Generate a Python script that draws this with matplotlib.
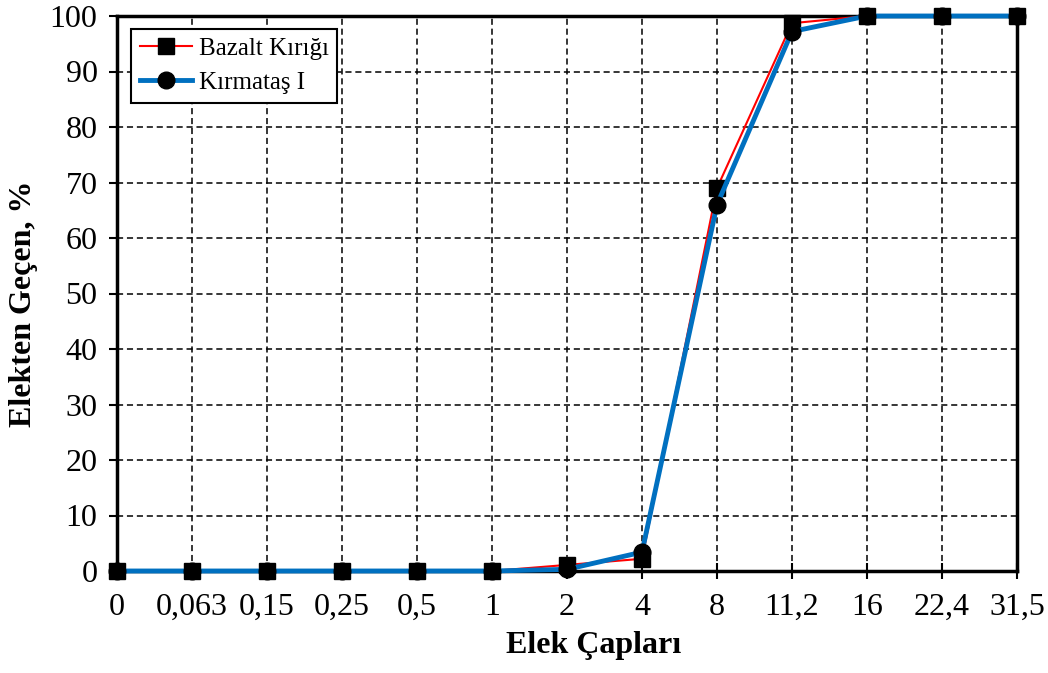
import numpy as np
import matplotlib.pyplot as plt

plt.rcParams['font.family'] = ['Liberation Serif', 'DejaVu Serif']

# Elek çapları (kategori etiketleri)
elek = ["0", "0,063", "0,15", "0,25", "0,5", "1", "2", "4", "8", "11,2", "16", "22,4", "31,5"]

# Elekten geçen, %
bazalt = [0, 0, 0, 0, 0, 0, 1.1, 2.2, 69, 98.7, 100, 100, 100]
kirmatas = [0, 0, 0, 0, 0, 0, 0.3, 3.4, 66, 97.2, 100, 100, 100]

x = np.arange(len(elek))

fig = plt.figure(figsize=(10.48, 6.73), dpi=100)
ax = fig.add_axes([117 / 1048, 1 - 571 / 673, 900 / 1048, 555 / 673])

ax.plot(x, bazalt, color="red", lw=1.5, marker="s", ms=12,
        mfc="black", mec="black", label="Bazalt Kırığı", zorder=3, clip_on=False)
ax.plot(x, kirmatas, color="#0070C0", lw=3.5, marker="o", ms=12,
        mfc="black", mec="black", label="Kırmataş I", zorder=4, clip_on=False)

ax.set_xlim(0, 12)
ax.set_ylim(0, 100)
ax.set_xticks(x)
ax.set_xticklabels(elek)
ax.set_yticks(np.arange(0, 101, 10))

ax.grid(True, color="black", linestyle=(0, (4, 2.5)), lw=1.1)
ax.set_axisbelow(True)

for s in ax.spines.values():
    s.set_linewidth(2.5)

ax.tick_params(axis="y", direction="out", length=6, width=1.5, labelsize=23, pad=8)
ax.tick_params(axis="x", direction="inout", length=12, width=1.5, labelsize=23, pad=10)

ax.set_xlabel("Elek Çapları", fontsize=23, fontweight="bold")
ax.xaxis.set_label_coords(0.530, -0.108)
ax.set_ylabel("Elekten Geçen, %", fontsize=23, fontweight="bold")
ax.yaxis.set_label_coords(-0.088, 0.481)

leg = ax.legend(loc="upper left", bbox_to_anchor=(0.0156, 0.977), borderaxespad=0,
                fontsize=18, fancybox=False, framealpha=1, edgecolor="black",
                handlelength=2.1, handletextpad=0.25, borderpad=0.35, labelspacing=0.45)
leg.get_frame().set_linewidth(1.5)

fig.savefig("out.png", dpi=100)
